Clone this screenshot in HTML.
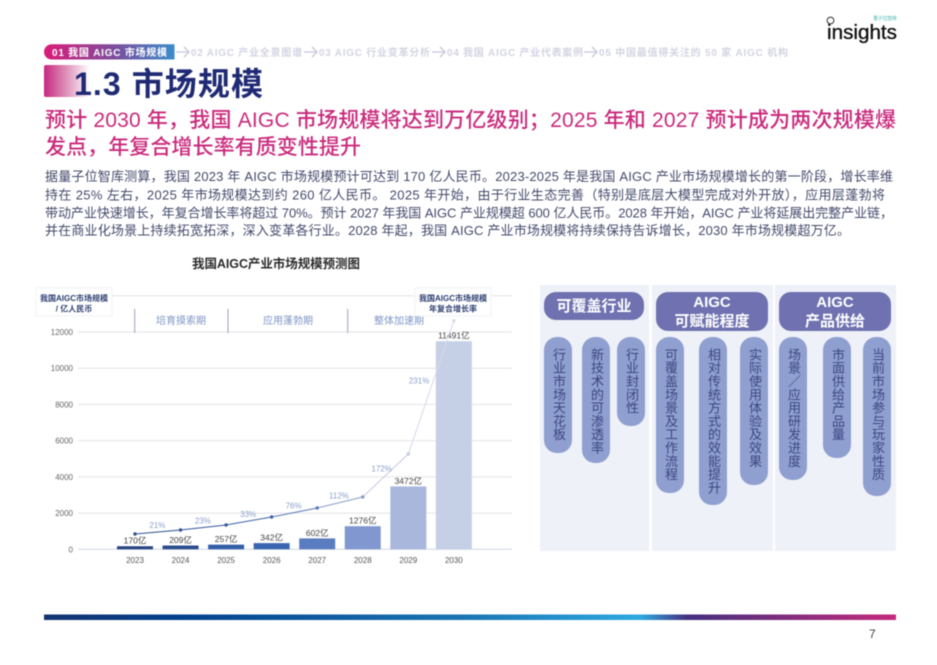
<!DOCTYPE html>
<html lang="zh">
<head>
<meta charset="utf-8">
<title>1.3 市场规模</title>
<style>
html,body{margin:0;padding:0;background:#fff;}
#page{position:relative;width:937px;height:665px;overflow:hidden;background:#fff;filter:blur(0.5px);font-family:"Liberation Sans","Noto Sans CJK SC",sans-serif;}
#page svg{position:absolute;left:0;top:0;}
#page svg text{font-family:"Liberation Sans","Noto Sans CJK SC",sans-serif;}
.panel{position:absolute;background:#eff1f9;top:285px;height:266px;}
.head{position:absolute;background:#6f71b0;color:#fff;border-radius:12px;font-weight:700;font-size:15px;line-height:19px;text-align:center;display:flex;align-items:center;justify-content:center;}
.pill{position:absolute;top:337px;background:#8f9fcf;color:#3c4682;border-radius:13px;font-size:13px;line-height:28px;letter-spacing:.3px;writing-mode:vertical-rl;text-align:start;box-sizing:border-box;padding-top:10.5px;white-space:nowrap;}
</style>
</head>
<body>
<div id="page">

<svg width="937" height="665" viewBox="0 0 937 665">
  <defs>
    <linearGradient id="navGrad" x1="0" x2="1" y1="0" y2="0"><stop offset="0" stop-color="#dc1a78"/><stop offset=".55" stop-color="#7a4f9f"/><stop offset="1" stop-color="#3a8ccb"/></linearGradient>
    <linearGradient id="titleGrad" x1="0" x2="1" y1="0" y2="0"><stop offset="0" stop-color="#c9277f"/><stop offset=".45" stop-color="#dc8ab5"/><stop offset="1" stop-color="#ffffff"/></linearGradient>
    <linearGradient id="footGrad" x1="0" x2="1" y1="0" y2="0"><stop offset="0" stop-color="#14346f"/><stop offset=".15" stop-color="#03408c"/><stop offset=".5" stop-color="#1a76b4"/><stop offset=".7" stop-color="#2ea9e0"/><stop offset=".755" stop-color="#44307f"/><stop offset="1" stop-color="#c62a7c"/></linearGradient>
  </defs>

  <path d="M44 52a7.7 7.7 0 0 1 7.7-7.7H174.5V59.5H51.7A7.7 7.7 0 0 1 44 52z" fill="url(#navGrad)"/>
  <text x="52" y="56" font-size="10" font-weight="700" fill="#fff" textLength="115">01 我国 AIGC 市场规模</text>
  <g fill="none" stroke="#cfd0df" stroke-width="1.6">
    <path d="M176 52h13M184 47l5 5-5 5"/><path d="M304 52h13M312 47l5 5-5 5"/><path d="M432 52h13M440 47l5 5-5 5"/><path d="M584 52h13M592 47l5 5-5 5"/>
  </g>
  <g font-size="10" font-weight="700" fill="#d3d4e2">
    <text x="191" y="56" textLength="111">02 AIGC 产业全景图谱</text>
    <text x="319" y="56" textLength="111">03 AIGC 行业变革分析</text>
    <text x="447" y="56" textLength="136">04 我国 AIGC 产业代表案例</text>
    <text x="599" y="56" textLength="189">05 中国最值得关注的 50 家 AIGC 机构</text>
  </g>

  <g>
    <circle cx="830.5" cy="20.5" r="3.4" fill="none" stroke="#333" stroke-width="1"/>
    <text x="827" y="39" font-size="20.5" fill="#111" stroke="#111" stroke-width=".35" textLength="70" lengthAdjust="spacingAndGlyphs">insights</text>
    <text x="873" y="20" font-size="5" fill="#4fb8b0" textLength="24">量子位智库</text>
  </g>

  <rect x="44" y="65" width="46" height="32" rx="2" fill="url(#titleGrad)"/>
  <text x="74" y="95" font-size="32" font-weight="700" fill="#1f2a74" textLength="189">1.3 市场规模</text>

  <g font-size="21" font-weight="500" fill="#c92a7c">
    <text x="45" y="127" textLength="851">预计 2030 年，我国 AIGC 市场规模将达到万亿级别；2025 年和 2027 预计成为两次规模爆</text>
    <text x="45" y="154" textLength="316">发点，年复合增长率有质变性提升</text>
  </g>

  <g font-size="13" fill="#454a6b">
    <text x="45" y="181" textLength="848">据量子位智库测算，我国 2023 年 AIGC 市场规模预计可达到 170 亿人民币。2023-2025 年是我国 AIGC 产业市场规模增长的第一阶段，增长率维</text>
    <text x="45" y="199.5" textLength="840">持在 25% 左右，2025 年市场规模达到约 260 亿人民币。 2025 年开始，由于行业生态完善（特别是底层大模型完成对外开放），应用层蓬勃将</text>
    <text x="45" y="217.5" textLength="848">带动产业快速增长，年复合增长率将超过 70%。预计 2027 年我国 AIGC 产业规模超 600 亿人民币。2028 年开始，AIGC 产业将延展出完整产业链，</text>
    <text x="45" y="235" textLength="805">并在商业化场景上持续拓宽拓深，深入变革各行业。2028 年起，我国 AIGC 产业市场规模将持续保持告诉增长，2030 年市场规模超万亿。</text>
  </g>

  <rect x="44" y="614.5" width="852" height="5.5" fill="url(#footGrad)"/>
  <text x="869" y="638" font-size="12" fill="#444">7</text>
</svg>

<svg id="chart" width="937" height="665" viewBox="0 0 937 665"></svg>

<div class="panel" style="left:540px;width:109px"></div>
<div class="panel" style="left:652px;width:121px"></div>
<div class="panel" style="left:775px;width:121px"></div>

<div class="head" style="left:544px;top:292px;width:100px;height:28px">可覆盖行业</div>
<div class="head" style="left:656px;top:292px;width:112px;height:39px">AIGC<br>可赋能程度</div>
<div class="head" style="left:779px;top:292px;width:112px;height:39px">AIGC<br>产品供给</div>

<div class="pill" style="left:544px;width:28px;height:116px">行业市场天花板</div>
<div class="pill" style="left:582px;width:28px;height:126px">新技术的可渗透率</div>
<div class="pill" style="left:617px;width:28px;height:89px">行业封闭性</div>
<div class="pill" style="left:656px;width:28px;height:156px">可覆盖场景及工作流程</div>
<div class="pill" style="left:699px;width:28px;height:168px">相对传统方式的效能提升</div>
<div class="pill" style="left:740px;width:28px;height:148px">实际使用体验及效果</div>
<div class="pill" style="left:779px;width:28px;height:143px">场景／应用研发进度</div>
<div class="pill" style="left:823px;width:28px;height:121px">市面供给产品量</div>
<div class="pill" style="left:863px;width:28px;height:159px">当前市场参与玩家性质</div>

</div>

<script>
const years = ['2023', '2024', '2025', '2026', '2027', '2028', '2029', '2030'];
const marketSize = [170, 209, 257, 342, 602, 1276, 3472, 11491];
const trendLine = [845, 1066, 1343, 1785, 2282, 2890, 5265, 12615];
const growthRates = [21, 23, 33, 76, 112, 172, 231];
const yTicks = [0, 2000, 4000, 6000, 8000, 10000, 12000];
const gridOnlyTicks = [14000];
const phases = ['培育摸索期', '应用蓬勃期', '整体加速期'];

const barPalette = ['#24427f', '#2b4c8e', '#335ea8', '#3a65b0', '#5b7cc0', '#8197cf', '#a9b7dc', '#c5cfe6'];
const linePalette = ['#2f4f90', '#2f4f90', '#34579a', '#3b61a6', '#5a78b5', '#8a9cc6', '#c4cbe0', '#d6dbe9'];

const svgNS = 'http://www.w3.org/2000/svg';
const chart = document.getElementById('chart');

function xBand(i) { return 135 + i * 45.55; }
function yVal(v) { return 549.3 - v * 217.3 / 12000; }

function make(tag, attrs, text) {
  const el = document.createElementNS(svgNS, tag);
  for (const k in attrs) el.setAttribute(k, attrs[k]);
  if (text !== undefined) el.textContent = text;
  chart.appendChild(el);
  return el;
}

const chartTitle = make('text', { x: 192, y: 268, 'font-size': 12.5, 'font-weight': 700, fill: '#2b2b2b', textLength: 168 }, '我国AIGC产业市场规模预测图');



yTicks.concat(gridOnlyTicks).forEach(function (t) {
  const grid = make('line', { x1: 78, x2: 512, y1: yVal(t), y2: yVal(t), stroke: t === 0 ? '#cfd5e3' : '#e4e4e6', 'stroke-width': 1 });
  
  
});

yTicks.forEach(function (t) {
  const label = make('text', { x: 73, y: yVal(t) + 3, 'font-size': 8, fill: '#666', 'text-anchor': 'end' }, String(t));
  
  
});

const phaseEdges = [134.7, 228, 347.7];
phaseEdges.forEach(function (px) {
  const div = make('line', { x1: px, x2: px, y1: 309, y2: 333, stroke: '#9aa3bb', 'stroke-width': 1 });
  
  
});
phases.forEach(function (p, i) {
  const cx = [181, 288, 399][i];
  const label = make('text', { x: cx, y: 324, 'font-size': 10, fill: '#7f96c6', 'text-anchor': 'middle' }, p);
  
  
});

marketSize.forEach(function (v, i) {
  const top = yVal(v);
  const bar = make('rect', { x: xBand(i) - 18, y: top, width: 36, height: yVal(0) - top, fill: barPalette[i] });
  
  
  const value = make('text', { x: xBand(i), y: top - 2.5, 'font-size': 8.5, fill: '#444', 'text-anchor': 'middle' }, v + '亿');
  
  
  const tick = make('text', { x: xBand(i), y: 563, 'font-size': 8, fill: '#555', 'text-anchor': 'middle' }, years[i]);
  
  
});

trendLine.forEach(function (v, i) {
  if (i < trendLine.length - 1) {
    const seg = make('line', { x1: xBand(i), y1: yVal(v), x2: xBand(i + 1), y2: yVal(trendLine[i + 1]), stroke: linePalette[i + 1], 'stroke-width': 1 });
    
    
  }
});
trendLine.forEach(function (v, i) {
  const dot = make('circle', { cx: xBand(i), cy: yVal(v), r: 1.7, fill: linePalette[i] });
  
  
});

growthRates.forEach(function (g, i) {
  const y1 = yVal(trendLine[i]);
  const y2 = yVal(trendLine[i + 1]);
  const mx = (xBand(i) + xBand(i + 1)) / 2 - (y1 - y2) * 0.09;
  const my = (y1 + y2) / 2 - 4;
  const label = make('text', { x: mx, y: my, 'font-size': 8, fill: '#8aa0cc', 'text-anchor': 'middle' }, g + '%');
  
  
});

function legendBox(x, lines, name) {
  const box = make('rect', { x: x, y: 288, width: 76, height: 28, fill: '#fff', stroke: '#f1f2f6', 'stroke-width': 1 });
  
  
  lines.forEach(function (ln, i) {
    const t = make('text', { x: x + 38, y: 301 + i * 10.5, 'font-size': 8, 'font-weight': 700, fill: '#2c3e70', 'text-anchor': 'middle' }, ln);
    
    
  });
}
legendBox(36, ['我国AIGC市场规模', '/ 亿人民币'], 'left-axis-title');
legendBox(415, ['我国AIGC市场规模', '年复合增长率'], 'growth-series-title');
</script>
</body>
</html>
